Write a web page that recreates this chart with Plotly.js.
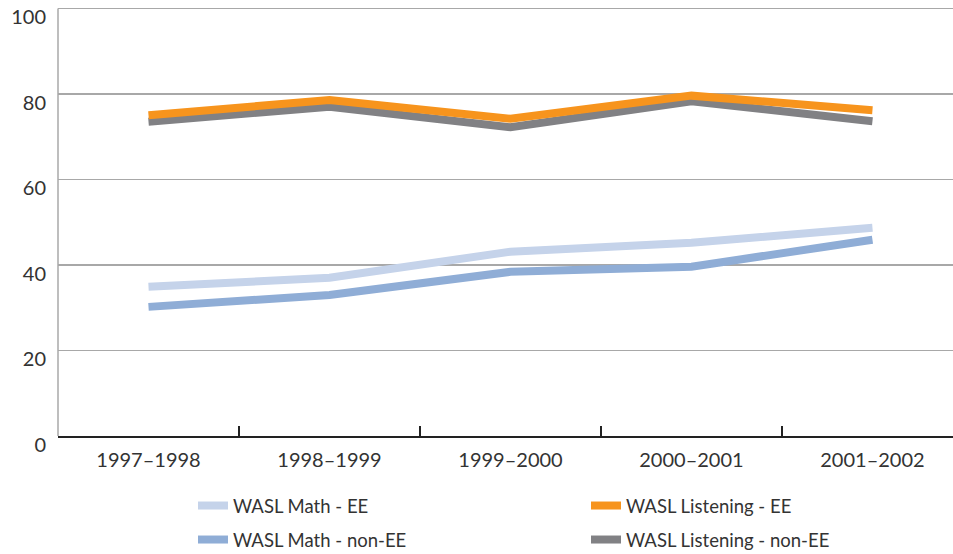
<!DOCTYPE html>
<html><head><meta charset="utf-8">
<script src="https://cdn.plot.ly/plotly-3.0.1.min.js"></script>
<style>html,body{margin:0;padding:0;background:#fff}#chart{width:953px;height:554px}</style>
</head><body><div id="chart"></div>
<script>
const categories = ["1997–1998","1998–1999","1999–2000","2000–2001","2001–2002"];
const mathEE = [34.9, 37.0, 43.1, 45.2, 48.7];
const mathNonEE = [30.2, 33.0, 38.4, 39.6, 45.9];
const listenEE = [75.0, 78.6, 74.2, 79.6, 76.2];
const listenNonEE = [73.5, 77.0, 72.2, 78.3, 73.6];
const yTicks = [0, 20, 40, 60, 80, 100];

const mk = (name, y, color, leg) => ({
  type: 'scatter', mode: 'lines', x: categories, y: y, name: name,
  line: {color: color, width: 8}, legend: leg, hoverinfo: 'skip'
});
const traces = [
  mk('WASL Math - non-EE', mathNonEE, '#8fadd6', 'legend2'),
  mk('WASL Math - EE', mathEE, '#c5d3ea', 'legend'),
  mk('WASL Listening - non-EE', listenNonEE, '#818184', 'legend2'),
  mk('WASL Listening - EE', listenEE, '#f7941d', 'legend')
];
const legBase = {
  orientation: 'h', xref: 'container', yref: 'container', x: 193/953,
  xanchor: 'left', yanchor: 'middle', entrywidth: 348, entrywidthmode: 'pixels',
  font: {size: 18.5, color: '#333'}, traceorder: 'normal', bgcolor: 'rgba(0,0,0,0)'
};
const layout = {
  width: 953, height: 554,
  margin: {l: 58, r: 0, t: 2.1, b: 118, pad: 0},
  paper_bgcolor: '#fff', plot_bgcolor: '#fff',
  font: {family: 'Lato, "Noto Sans", sans-serif', size: 20, color: '#333'},
  showlegend: true,
  xaxis: {
    type: 'category', range: [-0.5, 4.445], showgrid: false, zeroline: false,
    showline: true, linecolor: '#222', linewidth: 2,
    ticks: 'inside', tickson: 'boundaries', ticklen: 10, tickcolor: '#222', tickwidth: 1.5,
    tickfont: {size: 20, color: '#333'}, ticklabelstandoff: 5, fixedrange: true
  },
  yaxis: {
    range: [0, 101.5], tickmode: 'array', tickvals: yTicks, ticktext: yTicks.map(String),
    showgrid: true, gridcolor: '#a8a8a8', gridwidth: 1.5, zeroline: false,
    showline: false, ticks: '', ticklabelposition: 'outside bottom', ticklabelstandoff: 11,
    ticklabelshift: -5,
    tickfont: {size: 20, color: '#333'}, fixedrange: true
  },
  shapes: [{type: 'line', xref: 'paper', yref: 'y', x0: 0, x1: 0, y0: 0, y1: 100,
            line: {color: '#a8a8a8', width: 1.5}, layer: 'below'}],
  legend: Object.assign({}, legBase, {y: 1 - 506/554}),
  legend2: Object.assign({}, legBase, {y: 1 - 540/554})
};
Plotly.newPlot('chart', traces, layout, {displayModeBar: false, staticPlot: true});
</script></body></html>
